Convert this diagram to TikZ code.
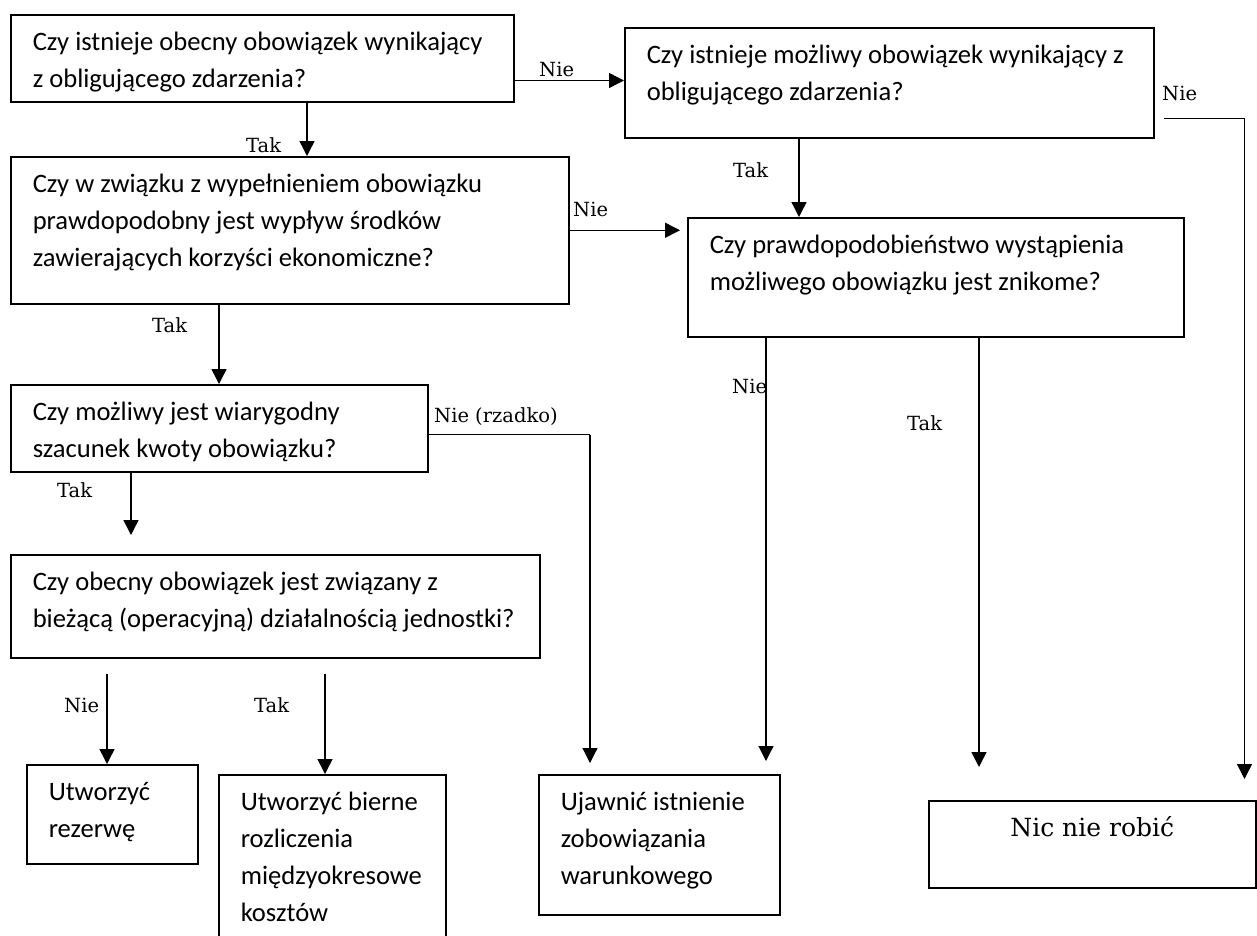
\documentclass[tikz,border=0pt]{standalone}
\usepackage{fontspec}
\setmainfont{Carlito}
\newfontfamily\labfont{DejaVu Serif}
\usetikzlibrary{arrows.meta}
\newcommand\tbox[3]{\parbox[c][#2pt][t]{#1pt}{\raggedright\leftskip=22pt\relax\fontsize{26.6}{37}\selectfont\vspace*{10pt}\rule{0pt}{26pt}#3}}
\newcommand\cbox[3]{\parbox[c][#2pt][t]{#1pt}{\centering\labfont\fontsize{25}{37}\selectfont\vspace*{10pt}\rule{0pt}{26pt}#3}}
\begin{document}
\begin{tikzpicture}[x=1pt,y=-1pt,
  box/.style={draw,line width=1.5pt,inner sep=0pt,anchor=north west},
  arr/.style={-{Triangle[width=15pt,length=15pt]},line width=1.4pt},
  ln/.style={line width=1.4pt},
  thinln/.style={line width=1.1pt},
  lbl/.style={font=\labfont\fontsize{19.5}{21}\selectfont,inner sep=0pt,anchor=base west}]
\useasboundingbox (0,0) rectangle (1257,935);
% boxes
\node[box] (A) at (10,14) {\tbox{503}{87}{Czy istnieje obecny obowiązek wynikający\\ z obligującego zdarzenia?}};
\node[box] (B) at (10,156) {\tbox{558}{147}{Czy w związku z wypełnieniem obowiązku\\ prawdopodobny jest wypływ środków\\ zawierających korzyści ekonomiczne?}};
\node[box] (C) at (624,27) {\tbox{529}{110}{Czy istnieje możliwy obowiązek wynikający z\\ obligującego zdarzenia?}};
\node[box] (D) at (687,217) {\tbox{496}{119}{Czy prawdopodobieństwo wystąpienia\\ możliwego obowiązku jest znikome?}};
\node[box] (E) at (10,384) {\tbox{417}{87}{Czy możliwy jest wiarygodny\\ szacunek kwoty obowiązku?}};
\node[box] (F) at (10,554) {\tbox{529}{103}{Czy obecny obowiązek jest związany z\\ bieżącą (operacyjną) działalnością jednostki?}};
\node[box] (G) at (26,764) {\tbox{171}{99}{Utworzyć\\ rezerwę}};
\node[box] (H) at (218,774) {\tbox{227}{175}{Utworzyć bierne\\ rozliczenia\\ międzyokresowe\\ kosztów}};
\node[box] (I) at (538,774) {\tbox{241}{140}{Ujawnić istnienie\\ zobowiązania\\ warunkowego}};
\node[box] (J) at (928,800) {\cbox{327}{87}{Nic nie robić}};
% helper coordinates
\coordinate (a1) at ([xshift=297pt]A.south west);
\coordinate (a2) at ([yshift=22pt]A.south east);
\coordinate (dW) at ([xshift=-7pt]D.west);
\coordinate (c1) at ([xshift=175pt]C.south west);
\coordinate (c5a) at ([xshift=9pt,yshift=20pt]C.south east);
\coordinate (c5b) at ([xshift=-12pt,yshift=21pt]J.north east);
\coordinate (b1) at ([xshift=209pt]B.south west);
\coordinate (e1) at ([yshift=38pt]E.south east);
\coordinate (e2) at ([xshift=52pt,yshift=11pt]I.north west);
\coordinate (f0) at ([xshift=121pt]E.south west);
\coordinate (f1) at ([xshift=121pt,yshift=19pt]F.north west);
\coordinate (d1) at ([xshift=79pt]D.south west);
\coordinate (d2) at ([xshift=228pt,yshift=13pt]I.north west);
\coordinate (d3) at ([xshift=292pt]D.south west);
\coordinate (d4) at ([xshift=51pt,yshift=33pt]J.north west);
\coordinate (g1) at ([xshift=97pt,yshift=-15pt]F.south west);
\coordinate (h1) at ([xshift=315pt,yshift=-15pt]F.south west);
% connectors
\draw[arr] (a1) -- (a1 |- B.north);
\draw[arr] (a2) -- (a2 -| C.west);
\draw[arr] (B.east) -- (B.east -| dW);
\draw[arr] (c1) -- (c1 |- D.north);
\draw[arr] (c5a) -| (c5b);
\draw[arr] (b1) -- (b1 |- E.north);
\draw[ln] (e1) -- (e1 -| e2);
\draw[arr,thinln] (e1 -| e2) -- (e2);
\draw[arr] (f0) -- (f1);
\draw[arr,thinln] (d1) -- (d2);
\draw[arr] (d3) -- (d4);
\draw[arr] (g1) -- (g1 |- G.north);
\draw[arr] (h1) -- (h1 |- H.north);
% labels
\node[lbl] (lA) at (539,76) {Nie};
\node[lbl] (lAB) at (246,152) {Tak};
\node[lbl] (lBD) at (573,216) {Nie};
\node[lbl] (lCD) at (733,177) {Tak};
\node[lbl] (lCJ) at (1162,100) {Nie};
\node[lbl] (lBE) at (152,332) {Tak};
\node[lbl] (lEI) at (434,422) {Nie (rzadko)};
\node[lbl] (lEF) at (57,497) {Tak};
\node[lbl] (lDI) at (732,393) {Nie};
\node[lbl] (lDJ) at (907,430) {Tak};
\node[lbl] (lFG) at (64,712) {Nie};
\node[lbl] (lFH) at (254,712) {Tak};
\end{tikzpicture}
\end{document}
